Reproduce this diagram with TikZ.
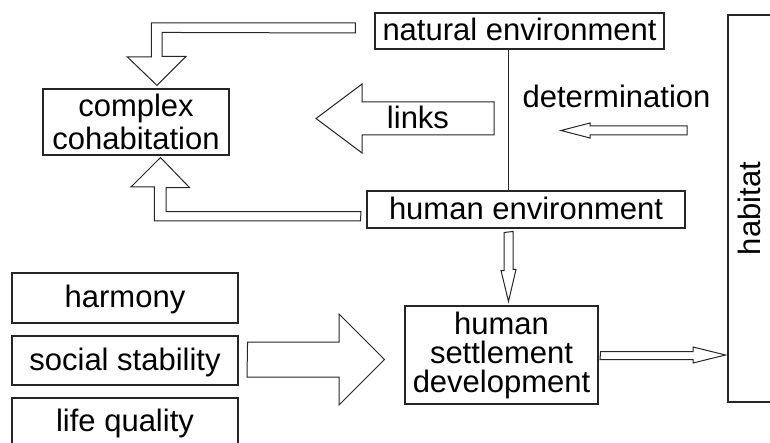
\documentclass[tikz,border=0pt]{standalone}
\usepackage{fontspec}
\setmainfont{Liberation Sans}
\usetikzlibrary{calc}
\begin{document}
\begin{tikzpicture}[x=1pt,y=-1pt,
  every node/.style={font=\fontsize{31}{33}\selectfont, text=black},
  box/.style={draw=black!85, line width=1.1pt, inner sep=0pt},
  one/.style={text height=22.3pt, text depth=3.1pt},
  blk/.style={draw=black!85, line width=1pt, fill=white, line join=miter},
  ln/.style={draw=black!85, line width=1.1pt}]
\useasboundingbox (0,0) rectangle (770,443);
\begin{scope}
\clip (0,0) rectangle (770,443);
% boxes
\node[box,one,minimum width=289,minimum height=36] (nat) at (519.5,31) {natural environment};
\node[box,one,minimum width=318,minimum height=37] (hum) at (526,209.5) {human environment};
\node[box,align=center,minimum width=186,minimum height=66] (cc) at (136,122) {complex\\cohabitation};
\node[box,align=center,minimum width=193,minimum height=98,font=\fontsize{31}{29}\selectfont] (hs) at (501.5,355) {human\\settlement\\development};
\node[box,one,minimum width=226,minimum height=50] (harm) at (125,298) {harmony};
\node[box,one,minimum width=226,minimum height=49] (soc) at (125,360.5) {social stability};
\node[box,one,minimum width=226,minimum height=48] (life) at (125,422) {life quality};
\node[box,one,rotate=90,minimum width=387,minimum height=46] (hab) at (751,208.5) {habitat};
% vertical line between environments
\coordinate (vx) at (508.5,0);
\draw[ln] (vx |- nat.south) -- (vx |- hum.north);
% natural environment -> complex cohabitation
\draw[blk] ($(nat.west)+(-19,-8)$) coordinate (a1) -- ++(-204,0) -- ++(0,34) -- ++(-24,0)
  -- ($(cc.north)+(21,-3)$) -- ++(29,-29) -- ++(-24,0) -- ++(0,-24) -- ($(a1)+(0,10)$) -- cycle;
% human environment -> complex cohabitation
\draw[blk] ($(hum.west)+(-6,11.5)$) -- ++(-206,0) -- ++(0,-34) -- ++(-23.5,0)
  -- ($(cc.south)+(24.5,2)$) -- ++(29,30) -- ++(-23.5,0) -- ++(0,24) -- ++(195,0) -- cycle;
% links arrow
\draw[blk] (494,102) -- (362,102) -- (362,84) -- (316,118.5) -- (362,153) -- (362,135) -- (494,135) -- cycle;
\node[one] (lk) at (418,118.5) {links};
% determination arrow
\node[one] (det) at (616.5,98) {determination};
\draw[blk] (687,126) -- (590,126) -- (590,123) -- (561,130.5) -- (590,138) -- (590,135) -- (687,135) -- cycle;
% human environment -> human settlement development
\draw[blk] ($(vx |- hum.south)+(-4.5,4)$) -- ++(0,38) -- ++(-3,0) -- ($(vx |- hs.north)+(0,-4)$)
  -- ++(7.5,-32) -- ++(-3,0) -- ++(0,-38) -- cycle;
% social stability -> human settlement development
\draw[blk] ($(soc.east)+(9,-18.5)$) -- (339,342) -- (339,314) -- ($(hs.west)+(-20,4.5)$)
  -- (339,405) -- (339,377) -- (247,377) -- cycle;
% human settlement development -> habitat
\draw[blk] ($(hs.east)+(2,-3.5)$) -- (693,351.5) -- (693,347) -- ($(hs.east)+(127,0)$)
  -- (693,363) -- (693,359.5) -- (600,359.5) -- cycle;
\end{scope}
\end{tikzpicture}
\end{document}
